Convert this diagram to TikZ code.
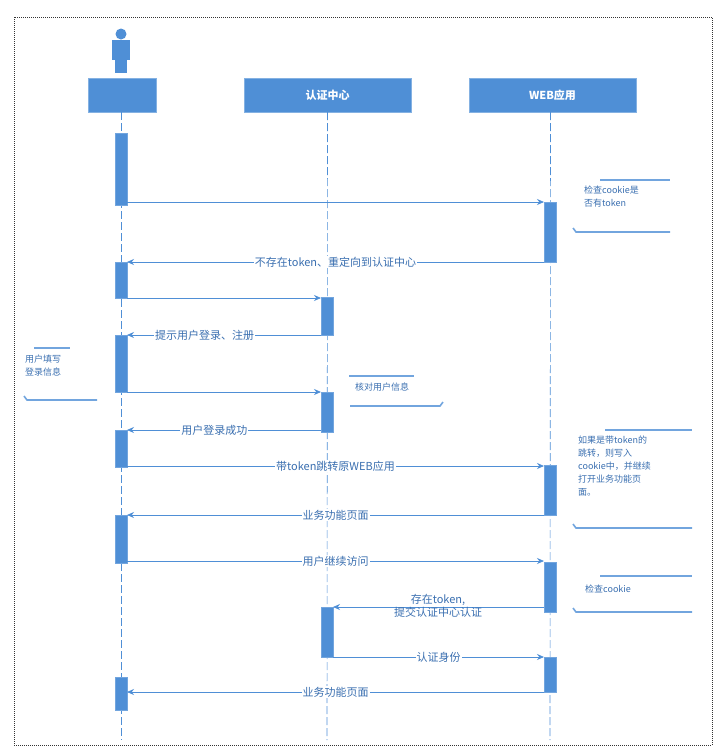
\documentclass[tikz,border=0pt]{standalone}
\usepackage{fontspec}
\setmainfont{Noto Sans CJK SC}
\usetikzlibrary{arrows.meta}
\definecolor{bl}{HTML}{4F8FD6}
\definecolor{tx}{HTML}{3A6FB0}
\begin{document}
\begin{tikzpicture}[x=1pt,y=-1pt,
  hdr/.style={fill=bl,draw=bl!70,minimum height=34pt,text=white,font=\bfseries\fontsize{11}{13}\selectfont},
  life/.style={bl,dashed,dash pattern=on 8pt off 3pt,line width=0.6pt},
  act/.style={fill=bl,draw=bl!80},
  msg/.style={bl,line width=0.8pt,-{Stealth[length=7pt,width=6pt]}},
  lab/.style={fill=white,text=tx,font=\fontsize{11}{13}\selectfont,inner sep=1pt},
  note/.style={text=tx,font=\fontsize{9}{13}\selectfont,align=left,anchor=north west,inner sep=0pt},
  nl/.style={bl!80,line width=1.6pt}]
\useasboundingbox (0,0) rectangle (724,753);
\draw[densely dotted,line width=1pt,black!80] (14,17) rectangle (712,745);
% person
\fill[bl] (121,34) circle (5.5);
\fill[bl] (112,40) rectangle (130,60);
\fill[bl] (115,60) rectangle (127,73);
% headers
\node[hdr,minimum width=68pt] (u) at (122,95) {};
\node[hdr,minimum width=167pt] (a) at (327.5,95) {认证中心};
\node[hdr,minimum width=167pt] (w) at (552.5,95) {WEB应用};
\coordinate (ue) at (121,740);\coordinate (ae) at (327,740);\coordinate (we) at (550,740);
\draw[life] (u.south) ++(-1,0) -- (ue);
\draw[life] (a.south) -- (ae);
\draw[life] (w.south) ++(-2,0) -- (we);
% activations
\foreach \x/\a/\b in {121/133/205,550/202/262,121/262/298,327/297/335,121/335/392,327/392/432,121/430/467,550/465/515,121/515/563,550/562/612,327/607/657,550/657/692,121/677/710}
  \draw[act] (\x-6,\a) rectangle (\x+6,\b);
% message anchor coordinates
\foreach \n/\x/\y in {m1a/127/202,m1b/544/202,m2a/544/262,m2b/127/262,m3a/127/298,m3b/321/298,
  m4a/321/335,m4b/127/335,m5a/127/392,m5b/321/392,m6a/321/430,m6b/127/430,m7a/127/466,m7b/544/466,
  m8a/544/515,m8b/127/515,m9a/127/561,m9b/544/561,m10a/544/607,m10b/333/607,m11a/333/657,m11b/544/657,
  m12a/544/692,m12b/127/692}
  \coordinate (\n) at (\x,\y);
\draw[msg] (m1a) -- (m1b);
\draw[msg] (m2a) -- node[lab]{不存在token、重定向到认证中心} (m2b);
\draw[msg] (m3a) -- (m3b);
\draw[msg] (m4a) -- node[lab,pos=0.6]{提示用户登录、注册} (m4b);
\draw[msg] (m5a) -- (m5b);
\draw[msg] (m6a) -- node[lab,pos=0.55]{用户登录成功} (m6b);
\draw[msg] (m7a) -- node[lab]{带token跳转原WEB应用} (m7b);
\draw[msg] (m8a) -- node[lab]{业务功能页面} (m8b);
\draw[msg] (m9a) -- node[lab]{用户继续访问} (m9b);
\draw[msg] (m10a) -- (m10b);
\node[lab,align=center,fill=none] (l10) at (438,606) {存在token,\\提交认证中心认证};
\draw[msg] (m11a) -- node[lab]{认证身份} (m11b);
\draw[msg] (m12a) -- node[lab]{业务功能页面} (m12b);
% notes
\node[note] (n1) at (584,186) {检查cookie是\\否有token};
\draw[nl] (600,180) -- (670,180);
\draw[nl] (573,228) -- (576,232) -- (670,232);
\node[note] (n2) at (25,355) {用户填写\\登录信息};
\draw[nl] (34,348) -- (70,348);
\draw[nl] (24,396) -- (27,400) -- (97,400);
\node[note] (n3) at (355,383) {核对用户信息};
\draw[nl] (349,376) -- (414,376);
\draw[nl] (350,406) -- (440,406) -- (443,402);
\node[note] (n4) at (578,436) {如果是带token的\\跳转，则写入\\cookie中，并继续\\打开业务功能页\\面。};
\draw[nl] (605,430) -- (692,430);
\draw[nl] (573,524) -- (576,528) -- (692,528);
\node[note] (n5) at (585,585) {检查cookie};
\draw[nl] (600,576) -- (692,576);
\draw[nl] (573,608) -- (576,612) -- (692,612);
\end{tikzpicture}
\end{document}
